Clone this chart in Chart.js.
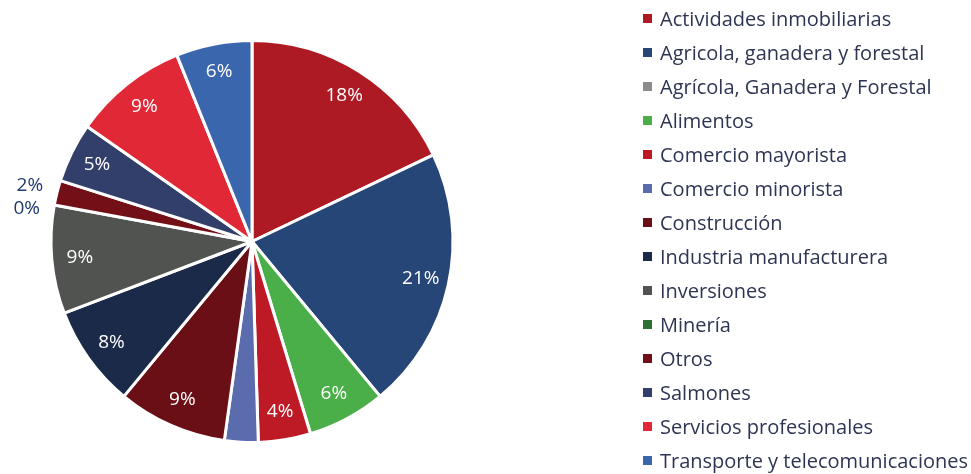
<!DOCTYPE html>
<html>
<head>
<meta charset="utf-8">
<script src="https://cdn.jsdelivr.net/npm/chart.js@4.4.1/dist/chart.umd.min.js"></script>
<style>
  html, body { margin: 0; padding: 0; background: #fff; }
  #wrap { width: 971px; height: 474px; }
</style>
</head>
<body>
<div id="wrap"><canvas id="myChart" width="971" height="474"></canvas></div>
<script>
const sectors = [
    'Actividades inmobiliarias',
    'Agricola, ganadera y forestal',
    'Agrícola, Ganadera y Forestal',
    'Alimentos',
    'Comercio mayorista',
    'Comercio minorista',
    'Construcción',
    'Industria manufacturera',
    'Inversiones',
    'Minería',
    'Otros',
    'Salmones',
    'Servicios profesionales',
    'Transporte y telecomunicaciones'
];
const shares = [ 17.9, 21.1, 0, 6.3, 4.2, 2.7, 8.8, 8.2, 8.7, 0, 2.0, 4.8, 9.2, 6.1 ];
const colors = [
    '#ad1a24', '#264677', '#8c8c8c', '#4aaf48', '#be1a26', '#5a6bae', '#6b0f17',
    '#1b2a48', '#515351', '#2d7031', '#730f17', '#333f6b', '#e02836', '#3a66ad'
];
const hiddenLabels = [ 'Agrícola, Ganadera y Forestal', 'Comercio minorista' ];

const FONT = '"Open Sans", "Noto Sans", sans-serif';

// percentage labels on the slices
const sliceLabels = {
    id: 'sliceLabels',
    afterDatasetsDraw(chart) {
        const c = chart.ctx;
        const meta = chart.getDatasetMeta(0);
        const placed = [];
        const zeros = [];
        meta.data.forEach((arc, i) => {
            if (hiddenLabels.includes(sectors[i])) return;
            const p = arc.getProps(['x', 'y', 'startAngle', 'endAngle', 'outerRadius'], true);
            const mid = (p.startAngle + p.endAngle) / 2;
            const outside = shares[i] < 2.5;
            const r = outside ? p.outerRadius + 28 : p.outerRadius * 0.86;
            const lab = {
                text: Math.round(shares[i]) + '%',
                x: p.x + Math.cos(mid) * r,
                y: p.y + Math.sin(mid) * r,
                outside: outside
            };
            if (shares[i] === 0) zeros.push(lab); else placed.push(lab);
        });
        // keep empty-slice labels from sitting on top of their neighbours
        zeros.forEach(z => {
            placed.forEach(o => {
                if (Math.abs(o.x - z.x) < 40 && Math.abs(o.y - z.y) < 23) {
                    z.y = z.y >= o.y - 2 ? o.y + 23 : o.y - 23;
                }
            });
            placed.push(z);
        });
        c.save();
        c.font = '19px ' + FONT;
        c.textAlign = 'center';
        c.textBaseline = 'middle';
        placed.forEach(l => {
            c.fillStyle = l.outside ? '#1f3a6e' : '#ffffff';
            c.fillText(l.text, l.x, l.y);
        });
        c.restore();
    }
};

// legend drawn at the right side
const sideLegend = {
    id: 'sideLegend',
    afterDraw(chart) {
        const c = chart.ctx;
        c.save();
        c.font = '20px ' + FONT;
        c.textBaseline = 'alphabetic';
        c.textAlign = 'left';
        sectors.forEach((name, i) => {
            const y = 18.5 + i * 34;
            c.fillStyle = colors[i];
            c.fillRect(643, y - 4.5, 9, 9);
            c.fillStyle = '#2e3553';
            c.fillText(name, 660, y + 7.5);
        });
        c.restore();
    }
};

const ctx = document.getElementById('myChart').getContext('2d');

var myChart = new Chart(ctx, {
    type: 'pie',
    data: {
        labels: sectors,
        datasets: [
            {
                data: shares,
                backgroundColor: colors,
                borderColor: '#ffffff',
                borderWidth: 3
            }
        ]
    },
    options: {
        responsive: false,
        animation: false,
        layout: { padding: { left: 0, right: 467, top: 39, bottom: 30 } },
        plugins: {
            legend: { display: false },
            tooltip: { enabled: false }
        }
    },
    plugins: [ sliceLabels, sideLegend ]
});
</script>
</body>
</html>
